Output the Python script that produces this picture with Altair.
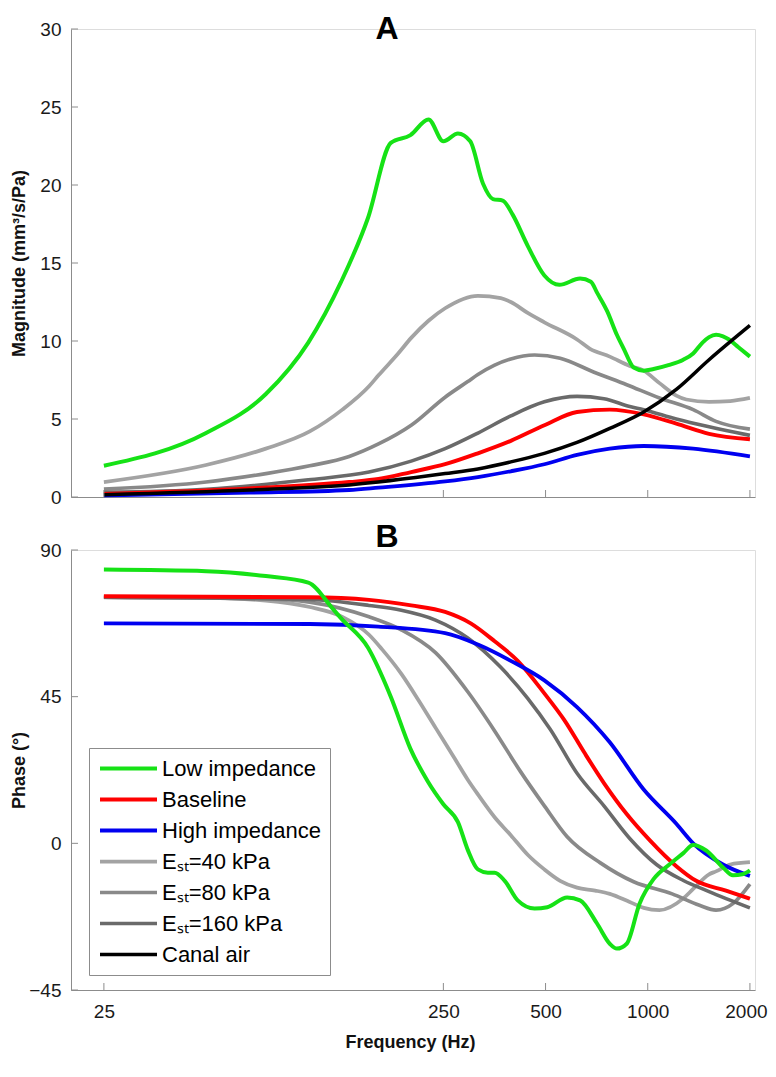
import altair as alt
import pandas as pd

# ---------------- series definitions ----------------
SERIES = ["Low impedance", "Baseline", "High impedance",
          "Eₛₜ=40 kPa", "Eₛₜ=80 kPa", "Eₛₜ=160 kPa", "Canal air"]
COLORS = ["#16e216", "#ff0000", "#0000f0", "#a3a3a3", "#898989", "#6a6a6a", "#000000"]
WIDTHS = [4, 3.5, 3.5, 2.5, 4, 5.5, 4]
DRAW_ORDER = ["Eₛₜ=40 kPa", "Eₛₜ=80 kPa", "Eₛₜ=160 kPa", "Baseline",
              "High impedance", "Low impedance", "Canal air"]
PANEL_LABELS = ["A", "B"]

# ---------------- panel A: magnitude (mm^3/s/Pa) ----------------
low_mag_f = [25, 50, 75, 100, 125, 150, 175, 200, 226, 250, 276, 300, 327, 350, 374,
             400, 443, 496, 549, 632, 680, 709, 760, 811, 850, 909, 973, 1040, 1150,
             1273, 1361, 1450, 1516, 1589, 1666, 1735, 1850, 2000]
low_mag = [2.0, 4.1, 6.6, 9.9, 13.8, 17.9, 22.7, 23.2, 24.2, 22.8, 23.3, 22.8, 20.1, 19.1, 19.0,
           18.1, 16.1, 14.2, 13.6, 14.0, 13.8, 13.1, 11.9, 10.4, 9.5, 8.3, 8.1, 8.2, 8.45,
           8.8, 9.2, 9.9, 10.25, 10.4, 10.3, 10.1, 9.6, 9.0]

e40_mag_f = [25, 50, 75, 101, 126, 151, 161, 184, 201, 226, 253, 316, 369, 395, 443, 496,
             619, 676, 773, 885, 973, 1083, 1214, 1299, 1516, 1750, 2000]
e40_mag = [0.96, 2.05, 3.1, 4.2, 5.6, 7.1, 7.8, 9.2, 10.2, 11.3, 12.1, 12.9, 12.75, 12.5, 11.8, 11.2,
           10.1, 9.5, 9.0, 8.4, 8.1, 7.3, 6.5, 6.25, 6.1, 6.15, 6.35]

e80_mag_f = [25, 50, 75, 101, 132, 161, 201, 253, 295, 316, 354, 395, 464, 552, 695,
             867, 1083, 1361, 1589, 2000]
e80_mag = [0.5, 0.96, 1.5, 2.0, 2.6, 3.4, 4.6, 6.4, 7.4, 7.85, 8.45, 8.85, 9.1, 8.9, 8.0,
           7.2, 6.35, 5.6, 4.85, 4.35]

e160_mag_f = [25, 50, 100, 151, 201, 253, 316, 395, 496, 619, 743, 885, 973,
              1214, 1516, 2000]
e160_mag = [0.3, 0.5, 1.1, 1.6, 2.3, 3.1, 4.1, 5.2, 6.1, 6.45, 6.3, 5.8, 5.6,
            5.0, 4.5, 3.95]

base_mag_f = [25, 67, 132, 161, 201, 253, 316, 395, 496, 619, 773, 973, 1214, 1516, 2000]
base_mag = [0.2, 0.55, 0.96, 1.15, 1.6, 2.1, 2.8, 3.6, 4.6, 5.45, 5.6, 5.3, 4.7, 4.05, 3.7]

high_mag_f = [25, 67, 132, 161, 253, 316, 395, 496, 619, 773, 973, 1361, 2000]
high_mag = [0.1, 0.28, 0.45, 0.6, 1.0, 1.28, 1.65, 2.1, 2.7, 3.1, 3.27, 3.1, 2.6]

canal_mag_f = [25, 67, 132, 253, 316, 395, 496, 619, 773, 973, 1214, 1516, 2000]
canal_mag = [0.15, 0.45, 0.77, 1.5, 1.8, 2.25, 2.8, 3.5, 4.4, 5.45, 6.9, 8.8, 11.0]

# ---------------- panel B: phase (degrees) ----------------
low_ph_f = [25, 50, 75, 100, 118, 125, 150, 175, 200, 225, 250, 276, 295, 316, 338, 354,
            379, 414, 464, 506, 579, 632, 709, 773, 811, 867, 946, 1040, 1158, 1273,
            1361, 1486, 1666, 1782, 1900, 2000]
low_ph = [84, 83.5, 82, 80, 72, 69, 60, 45, 29, 19, 12, 6.5, -2, -8, -9, -9,
          -11.5, -17.5, -20, -19.6, -16.6, -17.5, -24.6, -30.8, -32.3, -30.8, -18.5, -11, -6.5, -3,
          -0.5, -2.2, -7.4, -9.8, -9.5, -8.3]

e40_ph_f = [25, 50, 75, 101, 126, 151, 165, 188, 211, 237, 270, 295, 316, 354, 395, 443,
            496, 552, 619, 700, 773, 885, 973, 1083, 1273, 1361, 1516, 1589, 1750, 2000]
e40_ph = [75.5, 75.3, 74.5, 72.5, 69.5, 64, 59.5, 52, 44, 35.5, 26, 19.5, 15, 8, 2.5, -3.5,
          -8, -11.5, -13.6, -14.5, -15.5, -18, -19.8, -20.5, -16.9, -14, -9.5, -8.6, -6.5, -5.8]

e80_ph_f = [25, 75, 101, 151, 188, 237, 295, 354, 422, 496, 579, 725, 909, 1180, 1420,
            1589, 1782, 2000]
e80_ph = [75.5, 75, 74, 69.5, 65.5, 58.5, 46.5, 34.5, 22, 11.5, 2, -6, -11.8, -15.5, -19,
          -20.5, -18.5, -12.5]

e160_ph_f = [25, 101, 151, 188, 237, 295, 369, 443, 516, 619, 743, 885, 1061,
             1273, 1516, 2000]
e160_ph = [75.5, 74.8, 73, 71.5, 68.5, 63, 54, 44.5, 35, 21.5, 11.5, 1.5, -6.5,
           -11.4, -14.8, -19.8]

base_ph_f = [25, 101, 151, 201, 253, 301, 354, 414, 496, 568, 649, 743, 867, 1013,
             1214, 1389, 1700, 2000]
base_ph = [75.8, 75.5, 74.7, 73, 71, 67.5, 62, 56, 46, 37.8, 28, 18.5, 9, 1,
           -7, -11.5, -14.5, -17]

high_ph_f = [25, 101, 161, 253, 316, 395, 496, 619, 773, 973, 1214, 1361, 1666, 2000]
high_ph = [67.5, 67.3, 66.5, 64.5, 61, 56, 50, 41.8, 31, 16.5, 6, 0, -6.5, -10]

X_TICKS = [25, 250, 500, 1000, 2000]
MAG_TICKS = [0, 5, 10, 15, 20, 25, 30]
PH_TICKS = [-45, 0, 45, 90]

# ---------------- build tables ----------------
def table(pairs):
    rows = []
    for name, fs, vs in pairs:
        for f, v in zip(fs, vs):
            rows.append({"series": name, "freq": f, "value": v,
                         "order": DRAW_ORDER.index(name)})
    df = pd.DataFrame(rows)
    return df.sort_values(["order", "freq"], kind="stable")

mag_df = table([
    ("Eₛₜ=40 kPa", e40_mag_f, e40_mag),
    ("Eₛₜ=80 kPa", e80_mag_f, e80_mag),
    ("Eₛₜ=160 kPa", e160_mag_f, e160_mag),
    ("Baseline", base_mag_f, base_mag),
    ("High impedance", high_mag_f, high_mag),
    ("Low impedance", low_mag_f, low_mag),
    ("Canal air", canal_mag_f, canal_mag),
])
ph_df = table([
    ("Eₛₜ=40 kPa", e40_ph_f, e40_ph),
    ("Eₛₜ=80 kPa", e80_ph_f, e80_ph),
    ("Eₛₜ=160 kPa", e160_ph_f, e160_ph),
    ("Baseline", base_ph_f, base_ph),
    ("High impedance", high_ph_f, high_ph),
    ("Low impedance", low_ph_f, low_ph),
])

FONT = "Liberation Sans"
AXC = "#8c8c8c"
W = 684
HA = 468
HB = 440
TICK = 7

xscale = alt.Scale(type="log", domain=[20, 2070], nice=False)


def panel(df, ydomain, yticks, ytitle, height, show_xlabels, legend, label, label_y):
    if show_xlabels:
        xaxis = alt.Axis(values=X_TICKS, format="d", ticks=False,
                         domainColor=AXC, grid=False, title="Frequency (Hz)",
                         labelFontSize=19, labelFont=FONT, labelColor="#1a1a1a",
                         labelPadding=12,
                         labelOffset={"condition": {"test": "datum.value == 2000", "value": -4},
                                      "value": 0},
                         titleFont=FONT, titleFontSize=18,
                         titleFontWeight="bold", titleColor="#111", titlePadding=12,
                         titleX=339)
    else:
        xaxis = alt.Axis(values=X_TICKS, labels=False, ticks=False, domainColor=AXC,
                         grid=False, title=None, minExtent=0, maxExtent=1)
    yaxis = alt.Axis(values=yticks, ticks=False, domainColor=AXC, grid=False,
                     title=ytitle, labelFontSize=19, labelFont=FONT, labelColor="#1a1a1a",
                     labelPadding=10, titleFont=FONT, titleFontSize=18,
                     titleFontWeight="bold", titleColor="#111", titleX=-43,
                     minExtent=62, maxExtent=62)
    yscale = alt.Scale(domain=ydomain, nice=False, zero=False)

    lines = alt.Chart(df).mark_line(interpolate="monotone", strokeCap="butt").encode(
        x=alt.X("freq:Q", scale=xscale, axis=xaxis),
        y=alt.Y("value:Q", scale=yscale, axis=yaxis),
        color=alt.Color("series:N", scale=alt.Scale(domain=SERIES, range=COLORS), legend=legend),
        strokeWidth=alt.StrokeWidth("series:N", scale=alt.Scale(domain=SERIES, range=WIDTHS),
                                    legend=legend),
        order=alt.Order("freq:Q"),
    )
    xt = alt.Chart(pd.DataFrame({"freq": X_TICKS})).mark_rule(color=AXC, strokeWidth=1).encode(
        x=alt.X("freq:Q", scale=xscale),
        y=alt.value(height), y2=alt.value(height - TICK),
    )
    yt = alt.Chart(pd.DataFrame({"value": yticks})).mark_rule(color=AXC, strokeWidth=1).encode(
        y=alt.Y("value:Q", scale=yscale),
        x=alt.value(0), x2=alt.value(TICK),
    )
    lab = alt.Chart(pd.DataFrame({"t": [label]})).mark_text(
        font=FONT, fontSize=32, fontWeight="bold", color="#000",
        align="center", baseline="alphabetic",
    ).encode(text="t:N", x=alt.value(316), y=alt.value(label_y))
    return alt.layer(lines, xt, yt, lab).properties(width=W, height=height)


legend_b = alt.Legend(orient="none", legendX=18, legendY=198, title=None,
                      symbolType="M-1,0H5", symbolSize=361, labelFontSize=22,
                      labelFont=FONT, labelColor="#000", labelLimit=300,
                      strokeColor=AXC, fillColor="white", padding=9, rowPadding=8,
                      labelOffset=41, cornerRadius=0)

pa = panel(mag_df, [0, 30], MAG_TICKS, "Magnitude (mm³/s/Pa)", HA, False, None,
           PANEL_LABELS[0], 10)
pb = panel(ph_df, [-45, 90], PH_TICKS, "Phase (°)", HB, True, legend_b,
           PANEL_LABELS[1], -3)

chart = alt.vconcat(pa, pb, spacing=12).resolve_scale(
    color="independent", strokeWidth="independent"
).properties(padding={"left": 0, "top": 4, "right": 0, "bottom": 0}
).configure_view(stroke=None).configure(background="white")

chart.save("out.html", embed_options={"renderer": "svg", "actions": False})
